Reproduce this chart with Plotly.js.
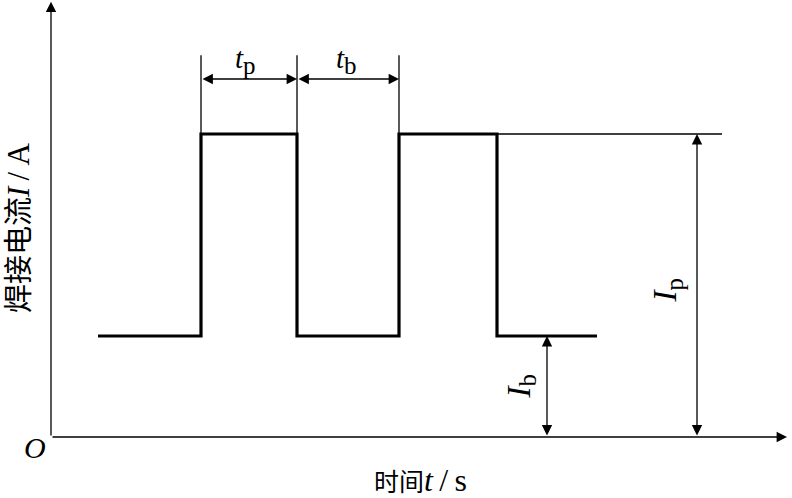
<!DOCTYPE html>
<html><head><meta charset="utf-8">
<script src="https://cdn.plot.ly/plotly-3.0.1.min.js"></script>
<style>body{margin:0;background:#fff}#c{width:792px;height:498px}</style>
</head><body><div id="c"></div>
<script>
// waveform (time units, current units)
const waveT = [0.47, 1.50, 1.50, 2.46, 2.46, 3.48, 3.48, 4.46, 4.46, 5.46];
const waveI = [1, 1, 3, 3, 1, 1, 3, 3, 1, 1];
const Ip = 3, Ib = 1;
const tpStart = 1.50, tpEnd = 2.46, tbEnd = 3.48;
const peakExtendT = [4.46, 6.71];
const IbArrowT = 4.96, IpArrowT = 6.46;
const dimLevel = 3.545, extTop = 3.78;
const xAxisEnd = 7.36, yAxisEnd = 4.31;
const xLabel = '时间<span style="font-size:32px"><i>t</i>\u2009/\u2009s</span>';
const yLabel = '焊接电流<span style="font-size:31px"><i>I</i>\u2009/\u2009A</span>';
const sub = s => '<sub><span style="font-size:25px">' + s + '</span></sub>';
const tpLabel = '<i>t</i>' + sub('p');
const tbLabel = '<i>t</i>' + sub('b');
const IpLabel = '<i>I</i>' + sub('p');
const IbLabel = '<i>I</i>' + sub('b');

const FONT = '"Liberation Serif", "Noto Sans CJK SC", serif';
const thin = {color:'#000', width:1.3};
const traces = [
  {x: waveT, y: waveI, mode:'lines', line:{color:'#000', width:3.2}, hoverinfo:'skip'},
  {x: peakExtendT, y:[Ip, Ip], mode:'lines', line:thin, hoverinfo:'skip'},
  {x:[tpStart,tpStart], y:[Ip, extTop], mode:'lines', line:thin, hoverinfo:'skip'},
  {x:[tpEnd,tpEnd], y:[Ip, extTop], mode:'lines', line:thin, hoverinfo:'skip'},
  {x:[tbEnd,tbEnd], y:[Ip, extTop], mode:'lines', line:thin, hoverinfo:'skip'}
];

function arrow(x0,y0,x1,y1,both){
  const a = {x:x1, y:y1, ax:x0, ay:y0, xref:'x', yref:'y', axref:'x', ayref:'y',
    text:'', showarrow:true, arrowhead:2, arrowsize:1.6, arrowwidth:1.3, arrowcolor:'#000', standoff:0};
  if(both){ a.arrowside='end+start'; a.startarrowhead=2; a.startarrowsize=1.6; a.startstandoff=0; }
  return a;
}
function label(x,y,text,size,angle){
  return {x:x, y:y, xref:'x', yref:'y', text:text, showarrow:false,
    font:{family:FONT, size:size, color:'#000'}, textangle:angle||0};
}
const annotations = [
  arrow(0,0,xAxisEnd,0,false),
  arrow(0,0,0,yAxisEnd,false),
  arrow(tpStart,dimLevel,tpEnd,dimLevel,true),
  arrow(tpEnd,dimLevel,tbEnd,dimLevel,true),
  arrow(IbArrowT,0,IbArrowT,Ib,true),
  arrow(IpArrowT,0,IpArrowT,Ip,true),
  label(1.94, 3.73, tpLabel, 29),
  label(2.95, 3.73, tbLabel, 29),
  label(6.17, 1.45, IpLabel, 33, -90),
  label(4.70, 0.50, IbLabel, 33, -90),
  label(-0.16, -0.10, '<i>O</i>', 30),
  label(3.69, -0.43, xLabel, 25),
  label(-0.32, 2.07, yLabel, 29, -90)
];

const layout = {
  width:792, height:498, margin:{l:0,r:0,t:0,b:0},
  paper_bgcolor:'#fff', plot_bgcolor:'#fff', showlegend:false,
  font:{family:FONT, size:28, color:'#000'},
  xaxis:{range:[-0.51, 7.41], visible:false, fixedrange:true},
  yaxis:{range:[-0.604, 4.327], visible:false, fixedrange:true},
  annotations: annotations
};
Plotly.newPlot('c', traces, layout, {displayModeBar:false, staticPlot:true});
</script></body></html>
